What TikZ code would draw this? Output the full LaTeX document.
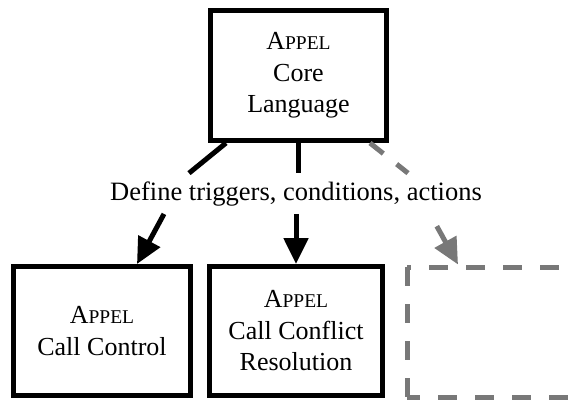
\documentclass[tikz,border=0pt]{standalone}
\usepackage{fontspec}
\setmainfont{Liberation Serif}
\usetikzlibrary{arrows.meta,calc}
\definecolor{dgray}{RGB}{120,120,120}
\newcommand\appelsc{A{\fontsize{19.5}{19.5}\selectfont PPEL}}
\tikzset{
  box/.style={draw, line width=5pt, align=center, inner sep=0pt,
    font=\fontsize{26}{31.5}\selectfont},
  conn/.style={line width=5pt},
  arr/.style={conn, -{Triangle[length=26pt,width=24pt]}},
  dashline/.style={draw=dgray, line width=5pt, dash pattern=on 19pt off 18pt},
  dconn/.style={draw=dgray, line width=5pt, dash pattern=on 17pt off 17pt},
  darr/.style={draw=dgray, line width=5pt, shorten <=14pt, -{Triangle[length=26pt,width=24pt]}},
  lab/.style={inner xsep=0pt, inner ysep=8pt, font=\fontsize{26.5}{31.5}\selectfont}
}
\begin{document}
\begin{tikzpicture}[x=1pt,y=-1pt]
\useasboundingbox (0,0) rectangle (577,400);
\clip (0,0) rectangle (577,400);
\node[box, minimum width=176pt, minimum height=130pt] (top) at (298.5,75.5)
  {\appelsc\\Core\\Language};
\node[box, minimum width=177pt, minimum height=129pt] (cc) at (102,331)
  {\appelsc\\Call Control};
\node[box, minimum width=173pt, minimum height=129pt] (ccr) at (296,331)
  {\appelsc\\Call Conflict\\Resolution};
% empty dashed box (right part runs off the picture)
\node[outer sep=0pt, inner sep=0pt, minimum width=184.5pt, minimum height=130pt] (ext) at (499.25,332) {};
\draw[dashline, dash phase=15pt] (ext.north west) -- (ext.north east);
\draw[dashline, dash phase=0pt] (ext.north west) -- (ext.south west);
\draw[dashline, dash phase=6pt] (ext.south west) -- (ext.south east);
\node[lab, anchor=base] (lbl) at (296,200) {Define triggers, conditions, actions};
% left connector
\draw[conn] ($(top.south)+(-72.5,0)$) -- ($(lbl.north)+(-107,0)$);
\draw[arr] ($(lbl.south)+(-132,0)$) -- ($(cc.north)+(35,0)$);
% middle connector
\draw[conn] (top.south) -- (top.south |- lbl.north);
\draw[arr] (ccr.north |- lbl.south) -- (ccr.north);
% dashed connector
\draw[dconn] ($(top.south)+(71.5,0)$) -- ($(lbl.north)+(112,0)$);
\draw[darr, fill=dgray] ($(lbl.south)+(134,0)$) -- ($(ext.north west)+(51,-2.5)$);
\end{tikzpicture}
\end{document}
